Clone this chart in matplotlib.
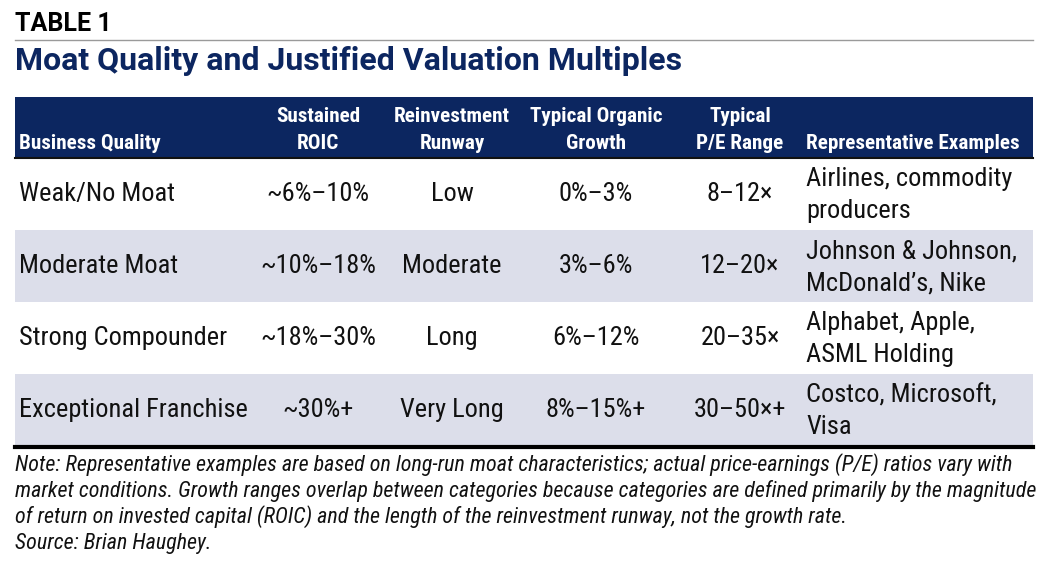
import matplotlib
matplotlib.use("Agg")
import matplotlib.pyplot as plt

# table content
quality = ["Weak/No Moat", "Moderate Moat", "Strong Compounder", "Exceptional Franchise"]
roic = ["~6%–10%", "~10%–18%", "~18%–30%", "~30%+"]
runway = ["Low", "Moderate", "Long", "Very Long"]
growth = ["0%–3%", "3%–6%", "6%–12%", "8%–15%+"]
pe_range = ["8–12×", "12–20×", "20–35×", "30–50×+"]
examples = [["Airlines, commodity", "producers"],
            ["Johnson & Johnson,", "McDonald’s, Nike"],
            ["Alphabet, Apple,", "ASML Holding"],
            ["Costco, Microsoft,", "Visa"]]
headers = [["", "Business Quality"], ["Sustained", "ROIC"], ["Reinvestment", "Runway"],
           ["Typical Organic", "Growth"], ["Typical", "P/E Range"], ["", "Representative Examples"]]
note_lines = [
    "Note: Representative examples are based on long-run moat characteristics; actual price-earnings (P/E) ratios vary with",
    "market conditions. Growth ranges overlap between categories because categories are defined primarily by the magnitude",
    "of return on invested capital (ROIC) and the length of the reinvestment runway, not the growth rate.",
    "Source: Brian Haughey.",
]

COND = "Roboto Condensed"
navy = "#0c2660"
band = "#dcdeea"
ink = "#111111"

W, H = 1049, 572
fig = plt.figure(figsize=(W / 100, H / 100), dpi=100)
ax = fig.add_axes([0, 0, 1, 1])
ax.set_xlim(0, W)
ax.set_ylim(H, 0)
ax.axis("off")

left, right = 15, 1033
ax.text(left, 31, "TABLE 1", fontsize=18, fontweight="bold", family="Roboto", color="black", va="baseline")
ax.plot([left, right], [40, 40], color="#9a9a9a", lw=1)
ax.text(left, 70, "Moat Quality and Justified Valuation Multiples", fontsize=23, fontweight="bold",
        family="Roboto", color=navy, va="baseline")

# header band
ax.add_patch(plt.Rectangle((left, 97), right - left, 60, color=navy, lw=0))
col_x = [19, 318, 452, 596, 740, 806]
col_ha = ["left", "center", "center", "center", "center", "left"]
for (l1, l2), x, ha in zip(headers, col_x, col_ha):
    if l1:
        ax.text(x, 122, l1, fontsize=15.2, fontweight="bold", family=COND, color="white", ha=ha, va="baseline")
    ax.text(x, 149, l2, fontsize=15.2, fontweight="bold", family=COND, color="white", ha=ha, va="baseline")
ax.plot([left, right], [157.5, 157.5], color=ink, lw=1.5)

row_top = 158
row_h = 72
for i in range(len(quality)):
    y0 = row_top + i * row_h
    if i % 2 == 1:
        ax.add_patch(plt.Rectangle((left, y0), right - left, row_h, color=band, lw=0))
    yc = y0 + row_h / 2
    cells = [quality[i], roic[i], runway[i], growth[i], pe_range[i]]
    for txt, x, ha in zip(cells, col_x[:5], col_ha[:5]):
        ax.text(x, yc, txt, fontsize=19, family=COND, color=ink, ha=ha, va="center")
    ax.text(col_x[5], yc - 15, examples[i][0], fontsize=19, family=COND, color=ink, ha="left", va="center")
    ax.text(col_x[5], yc + 17, examples[i][1], fontsize=19, family=COND, color=ink, ha="left", va="center")

ax.plot([left, right], [447, 447], color="black", lw=3)

for j, line in enumerate(note_lines):
    ax.text(left, 471 + j * 26, line, fontsize=15.8, style="italic", family=COND, color=ink, va="baseline")

fig.savefig("out.png", dpi=100)
